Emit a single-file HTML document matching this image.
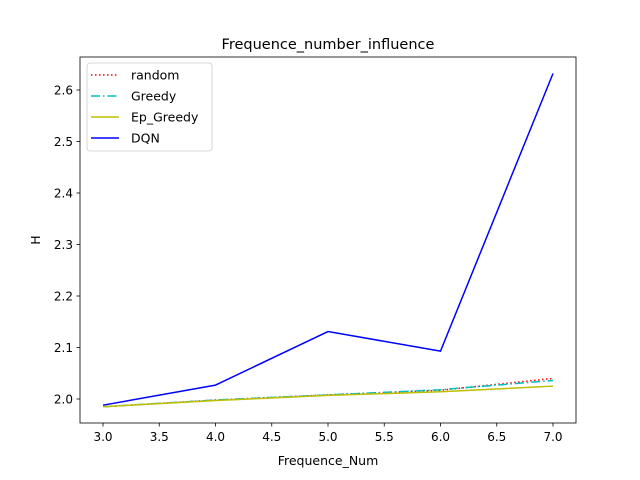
<!DOCTYPE html>
<html><head><meta charset="utf-8"><style>
body{margin:0;background:#fff;font-family:"DejaVu Sans","Liberation Sans",sans-serif;}
svg text{font-family:"DejaVu Sans","Liberation Sans",sans-serif;fill:#000;}
</style></head><body>
<svg id="chart" width="640" height="476" xmlns="http://www.w3.org/2000/svg">
<rect width="640" height="476" fill="#fff"/>
<text x="328" y="49" font-size="14.5" text-anchor="middle">Frequence_number_influence</text>
<g id="plot"></g>
<text x="328" y="465" font-size="12.5" text-anchor="middle">Frequence_Num</text>
<text x="40" y="240" font-size="12.5" text-anchor="middle" transform="rotate(-90 40 240)">H</text>
</svg>
<script>
const xs=[3,4,5,6,7];
const randomVals=[1.985,1.998,2.008,2.017,2.040];
const greedyVals=[1.985,1.998,2.008,2.018,2.036];
const epGreedyVals=[1.985,1.997,2.007,2.014,2.025];
const dqnVals=[1.988,2.027,2.131,2.093,2.632];
const xTicks=[3.0,3.5,4.0,4.5,5.0,5.5,6.0,6.5,7.0];
const yTicks=[2.0,2.1,2.2,2.3,2.4,2.5,2.6];
const L=80,R=576,T=57,B=423;
function sx(v){return 103+(v-3)*112.5;}
function sy(v){return 399-(v-2.0)*515;}
const NS="http://www.w3.org/2000/svg";
const g=document.getElementById('plot');
function mk(t,a,p){const e=document.createElementNS(NS,t);for(const k in a)e.setAttribute(k,a[k]);(p||g).appendChild(e);return e;}
const frame=mk('rect',{x:L,y:T,width:R-L,height:B-T,fill:'none',stroke:'#000','stroke-width':0.8});


xTicks.forEach(v=>{
  const l=mk('line',{x1:sx(v),x2:sx(v),y1:B,y2:B+3.5,stroke:'#000','stroke-width':0.8});
  
  
  const t=mk('text',{x:sx(v),y:B+18,'font-size':12,'text-anchor':'middle'});t.textContent=v.toFixed(1);
  
  
});
yTicks.forEach(v=>{
  const l=mk('line',{x1:L-3.5,x2:L,y1:sy(v),y2:sy(v),stroke:'#000','stroke-width':0.8});
  
  
  const t=mk('text',{x:L-7,y:sy(v)+4.5,'font-size':12,'text-anchor':'end'});t.textContent=v.toFixed(1);
  
  
});
const series=[
 {name:'random',vals:randomVals,color:'#ff0000',dash:'1.5,2.5'},
 {name:'Greedy',vals:greedyVals,color:'#00bfbf',dash:'9,3,1.5,3'},
 {name:'Ep_Greedy',vals:epGreedyVals,color:'#bfbf00',dash:''},
 {name:'DQN',vals:dqnVals,color:'#0000ff',dash:''}];
series.forEach(s=>{
  const p=mk('polyline',{points:xs.map((x,i)=>sx(x)+','+sy(s.vals[i])).join(' '),fill:'none',stroke:s.color,'stroke-width':1.5,'stroke-dasharray':s.dash});
  
  
});
const lg=mk('g',{});


mk('rect',{x:87,y:63,width:125,height:88,rx:3,fill:'#fff',stroke:'#ccc','stroke-width':0.8},lg);
series.forEach((s,i)=>{
  const y=75+i*21;
  const l=mk('line',{x1:91,x2:119,y1:y,y2:y,stroke:s.color,'stroke-width':1.5,'stroke-dasharray':s.dash},lg);
  
  
  const t=mk('text',{x:131,y:y+4.5,'font-size':12.5},lg);t.textContent=s.name;
  
  
});
</script>
</body></html>
